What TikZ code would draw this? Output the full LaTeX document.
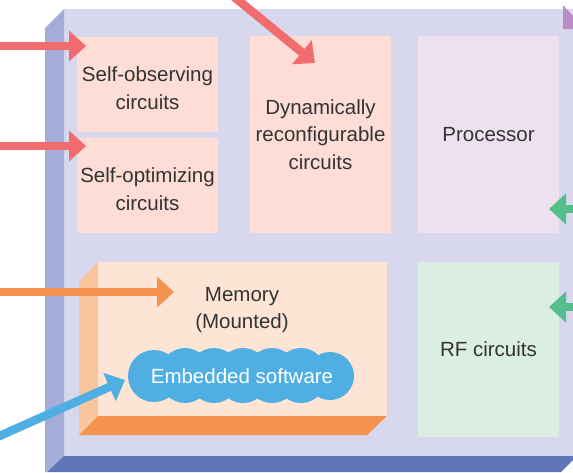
\documentclass[tikz,border=0pt]{standalone}
\usepackage{fontspec}
\setmainfont{Liberation Sans}
\usetikzlibrary{arrows.meta}
\definecolor{chipface}{HTML}{D7D8EE}
\definecolor{chipleft}{HTML}{A3AED8}
\definecolor{chipbottom}{HTML}{5F77B9}
\definecolor{pinkbox}{HTML}{FDDDD6}
\definecolor{procbox}{HTML}{EDE0EF}
\definecolor{rfbox}{HTML}{DBEEE3}
\definecolor{memface}{HTML}{FEE4D4}
\definecolor{memleft}{HTML}{FAC59A}
\definecolor{memorange}{HTML}{F5924E}
\definecolor{redarrow}{HTML}{F26B6E}
\definecolor{bluearrow}{HTML}{4FAFE3}
\definecolor{greenarrow}{HTML}{55BF8B}
\definecolor{purplearrow}{HTML}{BC8DC4}
\definecolor{textgray}{HTML}{333333}
\tikzset{
  box/.style={rectangle, inner sep=0pt, align=center, text=textgray,
    font=\fontsize{20.5}{27.5}\selectfont},
  label/.style={rectangle, inner sep=0pt, align=center, text=textgray,
    font=\fontsize{20.5}{27.5}\selectfont},
  bigarrow/.style={line width=8.5pt, -{Triangle[length=17pt,width=30pt]}},
}
\begin{document}
\begin{tikzpicture}[x=1pt,y=-1pt]
\useasboundingbox (0,0) rectangle (573,472);
\clip (0,0) rectangle (573,472);
% chip
\fill[chipface] (64,9) rectangle (600,456);
\fill[chipleft] (45,28) -- (64,9) -- (64,456) -- (47,472) -- (45,472) -- cycle;
\fill[chipbottom] (47,472) -- (64,456) -- (577,456) -- (561,472) -- cycle;
% boxes
\node[box, fill=pinkbox, minimum width=141, minimum height=95] (obs) at (147.5,84.5) {};
\node[label] (obstxt) at (147.5,88) {Self-observing\\circuits};
\node[box, fill=pinkbox, minimum width=141, minimum height=95] (opt) at (147.5,185.5) {};
\node[label] (opttxt) at (147.5,189) {Self-optimizing\\circuits};
\node[box, fill=pinkbox, minimum width=141, minimum height=197] (dyn) at (320.5,134.5) {Dynamically\\reconfigurable\\circuits};
\node[box, fill=procbox, minimum width=141, minimum height=197] (proc) at (488.5,134.5) {Processor};
\node[box, fill=rfbox, minimum width=141, minimum height=175] (rf) at (488.5,349.5) {RF circuits};
% memory block
\fill[memleft] (79,282) -- (98,262) -- (98,416) -- (79,435) -- cycle;
\fill[memorange] (79,435) -- (98,416) -- (387,416) -- (367,435) -- cycle;
\node[box, fill=memface, minimum width=289, minimum height=154] (mem) at (242.5,339) {};
\node[label] (memtxt) at (242,310) {Memory\\(Mounted)};
% cloud
\begin{scope}
\fill[bluearrow] (154,376) circle (26);
\fill[bluearrow] (330,376) circle (24);
\foreach \cx in {185,214,243,272,301} {
  \fill[bluearrow] (\cx,373) circle (25);
  \fill[bluearrow] (\cx,378) circle (25);
}
\fill[bluearrow] (154,360) rectangle (330,392);
\end{scope}
\node[label, text=white] (sw) at (242,376) {Embedded software};
% arrow end points
\coordinate (r1s) at (-5,46);   \coordinate (r1e) at (86,46);
\coordinate (r2s) at (-5,146);  \coordinate (r2e) at (86,146);
\coordinate (r3s) at (222,-13); \coordinate (r3e) at (315,63);
\coordinate (os)  at (-5,292);  \coordinate (oe)  at (174,292);
\coordinate (bs)  at (-5,438);  \coordinate (be)  at (125,380);
\coordinate (g1s) at (590,209); \coordinate (g1e) at (549,209);
\coordinate (g2s) at (590,307); \coordinate (g2e) at (549,307);
% arrows
\draw[bigarrow, redarrow] (r1s) -- (r1e);
\draw[bigarrow, redarrow] (r2s) -- (r2e);
\draw[bigarrow, redarrow] (r3s) -- (r3e);
\draw[bigarrow, memorange] (os) -- (oe);
\draw[bigarrow, bluearrow] (bs) -- (be);
\draw[bigarrow, greenarrow] (g1s) -- (g1e);
\draw[bigarrow, greenarrow] (g2s) -- (g2e);
\fill[purplearrow] (563,5) -- (573,16) -- (573,29) -- (563,29) -- cycle;
\end{tikzpicture}
\end{document}
